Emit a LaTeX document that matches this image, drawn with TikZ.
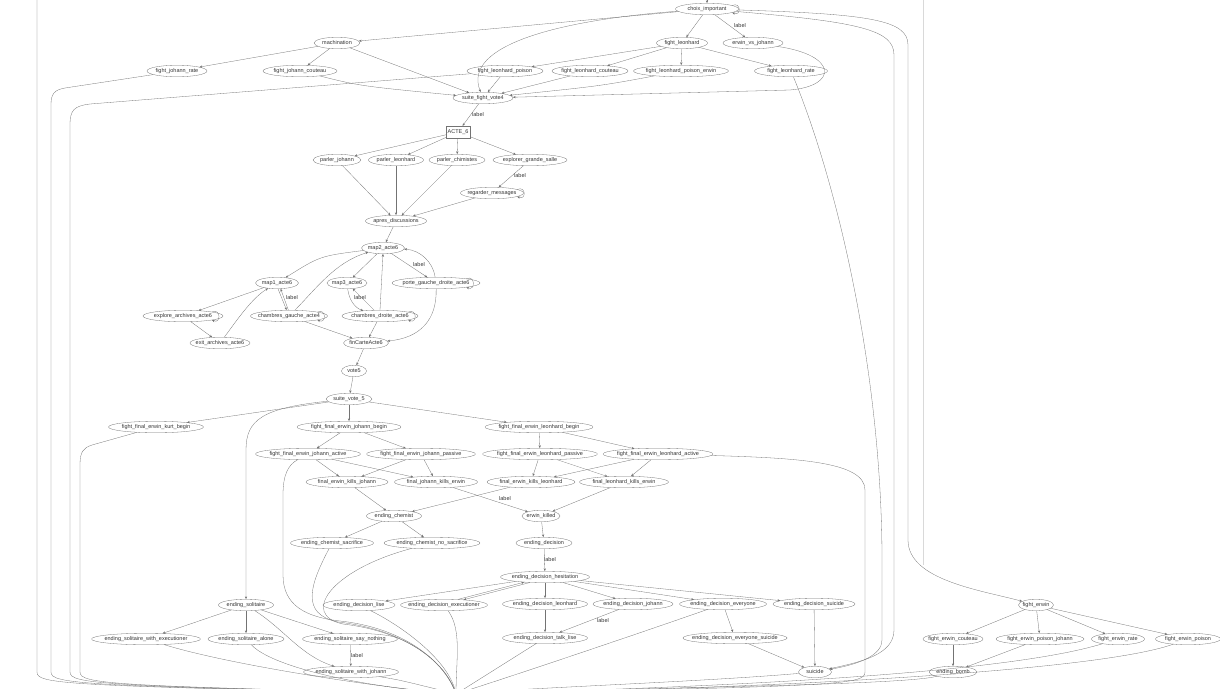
\documentclass[tikz,border=0pt]{standalone}
\usepackage{fontspec}
\setmainfont{Liberation Sans}
\usetikzlibrary{shapes.geometric,arrows.meta}

\newcommand\etat[4]{\node [scene, minimum width=#3pt] (#1) at (#2) {#4};}

\begin{document}
\begin{tikzpicture}[x=1pt,y=-1pt,
  scene/.style={ellipse,draw=black!55,line width=0.3pt,inner xsep=-6pt,inner ysep=0pt,minimum height=11.5pt,text height=3.9pt,text depth=1.1pt,font=\fontsize{5.5}{6.5}\selectfont,text=black!80},
  acte/.style={rectangle,draw=black!55,line width=0.3pt,minimum width=24pt,minimum height=12pt,inner sep=1pt,font=\fontsize{5.5}{6.5}\selectfont,text=black!80},
  lien/.style={draw=black!55,line width=0.3pt,-{Stealth[length=2.8pt,width=2.3pt]}},
  fin/.style={draw=black!55,line width=0.3pt},
  lbl/.style={font=\fontsize{5.5}{6.5}\selectfont,text=black!80,inner sep=0.5pt}]
\useasboundingbox (0,0) rectangle (1220,688);
\clip (0,0) rectangle (1220,688);

\coordinate (haut) at (707,-10);
\coordinate (hautG) at (37,-10);
\coordinate (sortie) at (456,694);

\etat{choix}{707,9}{63}{choix\_important}
\etat{machination}{337,43}{46}{machination}
\etat{fight_leonhard}{682,43}{51}{fight\_leonhard}
\etat{erwin_vs_johann}{753,43}{60}{erwin\_vs\_johann}
\etat{fight_johann_rate}{177,71}{60}{fight\_johann\_rate}
\etat{fight_johann_couteau}{300,71}{74}{fight\_johann\_couteau}
\etat{fight_leonhard_poison}{505,71}{76}{fight\_leonhard\_poison}
\etat{fight_leonhard_couteau}{590,71}{76}{fight\_leonhard\_couteau}
\etat{fight_leonhard_poison_erwin}{681,71}{95}{fight\_leonhard\_poison\_erwin}
\etat{fight_leonhard_rate}{791,71}{73}{fight\_leonhard\_rate}
\etat{suite_fight_vote4}{483,98}{60}{suite\_fight\_vote4}
\node [acte] (acte6) at (458,132) {ACTE\_6};
\etat{parler_johann}{337,160}{48}{parler\_johann}
\etat{parler_leonhard}{396,160}{55}{parler\_leonhard}
\etat{parler_chimistes}{457,160}{56}{parler\_chimistes}
\etat{explorer_grande_salle}{530,160}{74}{explorer\_grande\_salle}
\etat{regarder_messages}{492,193}{63}{regarder\_messages}
\etat{apres_discussions}{396,221}{61}{apres\_discussions}
\etat{map2}{383,248}{43}{map2\_acte6}
\etat{map1}{277,283}{43}{map1\_acte6}
\etat{map3}{347,283}{40}{map3\_acte6}
\etat{porte}{436,283}{88}{porte\_gauche\_droite\_acte6}
\etat{explore_archives}{183,316}{80}{explore\_archives\_acte6}
\etat{chambres_gauche}{289,316}{77}{chambres\_gauche\_acte4}
\etat{chambres_droite}{380,316}{76}{chambres\_droite\_acte6}
\etat{exit_archives}{220,343}{60}{exit\_archives\_acte6}
\etat{fin_carte}{366,343}{45}{finCarteActe6}
\etat{vote5}{354,371}{25}{vote5}
\etat{suite_vote_5}{349,399}{46}{suite\_vote\_5}
\etat{kurt_begin}{156,427}{95}{fight\_final\_erwin\_kurt\_begin}
\etat{johann_begin}{349,427}{104}{fight\_final\_erwin\_johann\_begin}
\etat{leonhard_begin}{539,427}{108}{fight\_final\_erwin\_leonhard\_begin}
\etat{johann_active}{308,454}{105}{fight\_final\_erwin\_johann\_active}
\etat{johann_passive}{421,454}{109}{fight\_final\_erwin\_johann\_passive}
\etat{leonhard_passive}{540,454}{115}{fight\_final\_erwin\_leonhard\_passive}
\etat{leonhard_active}{658,454}{110}{fight\_final\_erwin\_leonhard\_active}
\etat{erwin_kills_johann}{347,482}{82}{final\_erwin\_kills\_johann}
\etat{johann_kills_erwin}{436,482}{83}{final\_johann\_kills\_erwin}
\etat{erwin_kills_leonhard}{531,482}{88}{final\_erwin\_kills\_leonhard}
\etat{leonhard_kills_erwin}{624,482}{89}{final\_leonhard\_kills\_erwin}
\etat{ending_chemist}{394,516}{55}{ending\_chemist}
\etat{erwin_killed}{541,516}{38}{erwin\_killed}
\etat{chemist_sacrifice}{332,543}{83}{ending\_chemist\_sacrifice}
\etat{chemist_no_sacrifice}{432,543}{96}{ending\_chemist\_no\_sacrifice}
\etat{ending_decision}{544,543}{56}{ending\_decision}
\etat{hesitation}{545,577}{89}{ending\_decision\_hesitation}
\etat{ending_solitaire}{246,605}{55}{ending\_solitaire}
\etat{decision_lise}{359,605}{72}{ending\_decision\_lise}
\etat{decision_executioner}{444,605}{87}{ending\_decision\_executioner}
\etat{decision_leonhard}{545,604}{85}{ending\_decision\_leonhard}
\etat{decision_johann}{633,604}{80}{ending\_decision\_johann}
\etat{decision_everyone}{723,604}{87}{ending\_decision\_everyone}
\etat{decision_suicide}{814,604}{82}{ending\_decision\_suicide}
\etat{fight_erwin}{1036,605}{35}{fight\_erwin}
\etat{solitaire_executioner}{146,639}{109}{ending\_solitaire\_with\_executioner}
\etat{solitaire_alone}{246,639}{76}{ending\_solitaire\_alone}
\etat{solitaire_say_nothing}{350,639}{95}{ending\_solitaire\_say\_nothing}
\etat{decision_talk_lise}{545,638}{85}{ending\_decision\_talk\_lise}
\etat{everyone_suicide}{735,638}{102}{ending\_decision\_everyone\_suicide}
\etat{fight_erwin_couteau}{953,639}{60}{fight\_erwin\_couteau}
\etat{fight_erwin_poison_johann}{1040,639}{88}{fight\_erwin\_poison\_johann}
\etat{fight_erwin_rate}{1118,639}{53}{fight\_erwin\_rate}
\etat{fight_erwin_poison}{1188,639}{65}{fight\_erwin\_poison}
\etat{solitaire_johann}{351,672}{95}{ending\_solitaire\_with\_johann}
\etat{suicide}{815,672}{33}{suicide}
\etat{ending_bomb}{953,672}{48}{ending\_bomb}

\node [lbl] (lab_choix) at (740,26) {label};
\node [lbl] (lab_vote4) at (478,115) {label};
\node [lbl] (lab_salle) at (520,176) {label};
\node [lbl] (lab_porte) at (419,265) {label};
\node [lbl] (lab_gauche) at (292,298) {label};
\node [lbl] (lab_droite) at (360,298) {label};
\node [lbl] (lab_killed) at (505,499) {label};
\node [lbl] (lab_decision) at (550,560) {label};
\node [lbl] (lab_johann) at (603,621) {label};
\node [lbl] (lab_nothing) at (357,656) {label};

\draw [black!15,line width=0.8pt] (923,0) -- (923,565);

\draw [lien] (haut) -- (choix);
\draw [lien] (choix.8) .. controls +(9,-4) and +(9,4) .. (choix.-8);
\draw [lien] (choix) -- (machination);
\draw [lien] (choix) .. controls (560,20) and (462,45) .. (suite_fight_vote4);
\draw [lien] (choix) -- (fight_leonhard);
\draw [lien] (choix) -- (erwin_vs_johann);
\draw [lien] (choix) .. controls (870,14) and (908,20) .. (908,45) -- (908,540) .. controls (908,580) and (980,590) .. (fight_erwin);
\draw [lien] (choix) .. controls (860,22) and (894,30) .. (894,55) -- (894,630) .. controls (894,655) and (860,662) .. (suicide);

\draw [lien] (machination) -- (fight_johann_rate);
\draw [lien] (machination) -- (fight_johann_couteau);
\draw [lien] (machination) -- (suite_fight_vote4);
\draw [lien] (fight_leonhard) -- (fight_leonhard_poison);
\draw [lien] (fight_leonhard) -- (fight_leonhard_couteau);
\draw [lien] (fight_leonhard) -- (fight_leonhard_poison_erwin);
\draw [lien] (fight_leonhard) -- (fight_leonhard_rate);
\draw [lien] (erwin_vs_johann) .. controls (838,55) and (838,86) .. (790,90) -- (suite_fight_vote4);
\draw [lien] (fight_johann_couteau) .. controls (360,86) .. (suite_fight_vote4);
\draw [lien] (fight_leonhard_poison) -- (suite_fight_vote4);
\draw [lien] (fight_leonhard_couteau) -- (suite_fight_vote4);
\draw [lien] (fight_leonhard_poison_erwin) .. controls (600,86) .. (suite_fight_vote4);
\draw [lien] (fight_leonhard_rate) .. controls (840,190) and (882,380) .. (882,560) -- (882,640) .. controls (882,655) and (860,664) .. (suicide);
\draw [fin] (hautG) -- (37,672) .. controls (37,684) and (60,686) .. (sortie);
\draw [fin] (fight_johann_rate) -- (65,88) .. controls (54,90) and (51,94) .. (51,105) -- (51,672) .. controls (51,684) and (80,686) .. (sortie);
\draw [fin] (fight_leonhard_poison) -- (90,104) .. controls (74,106) and (70,110) .. (70,125) -- (70,672) .. controls (70,684) and (100,686) .. (sortie);

\draw [lien] (suite_fight_vote4) -- (acte6);
\draw [lien] (acte6) -- (parler_johann);
\draw [lien] (acte6) -- (parler_leonhard);
\draw [lien] (acte6) -- (parler_chimistes);
\draw [lien] (acte6) -- (explorer_grande_salle);
\draw [lien] (parler_johann) -- (apres_discussions);
\draw [lien] (parler_leonhard) -- (apres_discussions);
\draw [lien] (parler_chimistes) -- (apres_discussions);
\draw [lien] (explorer_grande_salle) -- (regarder_messages);
\draw [lien] (regarder_messages.8) .. controls +(9,-4) and +(9,4) .. (regarder_messages.-8);
\draw [lien] (regarder_messages) -- (apres_discussions);
\draw [lien] (apres_discussions) -- (map2);

\draw [lien] (map2) .. controls (320,256) .. (map1);
\draw [lien] (map2) -- (map3);
\draw [lien] (map2) -- (porte);
\draw [lien] (porte) .. controls (433,262) and (420,250) .. (map2);
\draw [lien] (porte.8) .. controls +(9,-4) and +(9,4) .. (porte.-8);
\draw [lien] (porte) .. controls (437,320) and (420,338) .. (fin_carte);
\draw [lien] (map1) -- (explore_archives);
\draw [lien] (map1.-80) -- (chambres_gauche.112);
\draw [lien] (chambres_gauche.96) -- (map1.-58);
\draw [lien] (chambres_gauche) .. controls (315,290) and (335,262) .. (map2);
\draw [lien] (chambres_gauche.8) .. controls +(9,-4) and +(9,4) .. (chambres_gauche.-8);
\draw [lien] (chambres_gauche) -- (fin_carte);
\draw [lien] (explore_archives.8) .. controls +(9,-4) and +(9,4) .. (explore_archives.-8);
\draw [lien] (explore_archives) -- (exit_archives);
\draw [lien] (exit_archives) .. controls (237,320) and (252,298) .. (map1);
\draw [lien] (map3) .. controls (349,300) and (355,308) .. (chambres_droite);
\draw [lien] (chambres_droite) -- (map3);
\draw [lien] (chambres_droite.north) -- (map2.south);
\draw [lien] (chambres_droite.8) .. controls +(9,-4) and +(9,4) .. (chambres_droite.-8);
\draw [lien] (chambres_droite) -- (fin_carte);
\draw [lien] (fin_carte) -- (vote5);
\draw [lien] (vote5) -- (suite_vote_5);

\draw [lien] (suite_vote_5) -- (kurt_begin);
\draw [lien] (suite_vote_5) -- (johann_begin);
\draw [lien] (suite_vote_5) -- (leonhard_begin);
\draw [lien] (suite_vote_5) .. controls (262,408) and (246,420) .. (246,450) -- (ending_solitaire);
\draw [fin] (kurt_begin) -- (92,445) .. controls (83,448) and (80,452) .. (80,465) -- (80,672) .. controls (80,684) and (110,686) .. (sortie);
\draw [lien] (johann_begin) -- (johann_active);
\draw [lien] (johann_begin) -- (johann_passive);
\draw [lien] (leonhard_begin) -- (leonhard_passive);
\draw [lien] (leonhard_begin) -- (leonhard_active);
\draw [lien] (johann_active) -- (erwin_kills_johann);
\draw [lien] (johann_active) -- (johann_kills_erwin);
\draw [lien] (johann_passive) -- (erwin_kills_johann);
\draw [lien] (johann_passive) -- (johann_kills_erwin);
\draw [lien] (leonhard_passive) -- (erwin_kills_leonhard);
\draw [lien] (leonhard_passive) -- (leonhard_kills_erwin);
\draw [lien] (leonhard_active) -- (erwin_kills_leonhard);
\draw [lien] (leonhard_active) -- (leonhard_kills_erwin);
\draw [fin] (johann_active) .. controls (288,465) and (283,475) .. (283,495) -- (283,575) .. controls (283,605) and (305,617) .. (340,621) .. controls (405,628) and (445,662) .. (sortie);
\draw [fin] (leonhard_active) .. controls (800,458) and (865,462) .. (865,490) -- (865,672) .. controls (865,685) and (840,686) .. (sortie);
\draw [lien] (erwin_kills_johann) -- (ending_chemist);
\draw [lien] (erwin_kills_leonhard) -- (ending_chemist);
\draw [lien] (johann_kills_erwin) -- (erwin_killed);
\draw [lien] (leonhard_kills_erwin) -- (erwin_killed);
\draw [lien] (ending_chemist) -- (chemist_sacrifice);
\draw [lien] (ending_chemist) -- (chemist_no_sacrifice);
\draw [lien] (erwin_killed) -- (ending_decision);
\draw [lien] (ending_decision) -- (hesitation);
\draw [fin] (chemist_sacrifice) .. controls (310,585) and (300,614) .. (338,622) .. controls (407,630) and (446,663) .. (sortie);
\draw [fin] (chemist_no_sacrifice) .. controls (330,570) and (300,615) .. (343,624) .. controls (410,632) and (447,664) .. (sortie);

\draw [lien] (hesitation) -- (decision_lise);
\draw [lien] (hesitation.200) -- (decision_executioner.15);
\draw [lien] (decision_executioner.22) -- (hesitation.194);
\draw [lien] (hesitation) -- (decision_leonhard);
\draw [lien] (hesitation) -- (decision_johann);
\draw [lien] (hesitation) -- (decision_everyone);
\draw [lien] (hesitation) -- (decision_suicide);
\draw [lien] (decision_leonhard) -- (decision_talk_lise);
\draw [lien] (decision_johann) -- (decision_talk_lise);
\draw [lien] (decision_everyone) -- (everyone_suicide);
\draw [lien] (everyone_suicide) -- (suicide);
\draw [lien] (decision_suicide) -- (suicide);
\draw [fin] (decision_lise) .. controls (400,625) and (450,660) .. (sortie);
\draw [fin] (decision_executioner) .. controls (462,630) and (456,660) .. (sortie);
\draw [fin] (decision_talk_lise) -- (sortie);
\draw [fin] (decision_everyone) .. controls (620,640) and (500,680) .. (sortie);
\draw [fin] (suicide) .. controls (700,682) and (520,688) .. (sortie);

\draw [lien] (ending_solitaire) -- (solitaire_executioner);
\draw [lien] (ending_solitaire) -- (solitaire_alone);
\draw [lien] (ending_solitaire) -- (solitaire_say_nothing);
\draw [lien] (ending_solitaire) .. controls (285,630) and (300,655) .. (solitaire_johann);
\draw [lien] (solitaire_say_nothing) -- (solitaire_johann);
\draw [fin] (solitaire_executioner) .. controls (230,665) and (380,688) .. (sortie);
\draw [fin] (solitaire_alone) .. controls (270,665) and (350,686) .. (sortie);
\draw [fin] (solitaire_johann) .. controls (400,680) .. (sortie);

\draw [lien] (fight_erwin) -- (fight_erwin_couteau);
\draw [lien] (fight_erwin) -- (fight_erwin_poison_johann);
\draw [lien] (fight_erwin) -- (fight_erwin_rate);
\draw [lien] (fight_erwin) -- (fight_erwin_poison);
\draw [lien] (fight_erwin_couteau) -- (ending_bomb);
\draw [lien] (fight_erwin_poison_johann) -- (ending_bomb);
\draw [fin] (ending_bomb) .. controls (900,686) and (600,688) .. (sortie);
\draw [fin] (fight_erwin_rate) .. controls (1000,675) and (700,688) .. (sortie);
\draw [fin] (fight_erwin_poison) .. controls (1100,670) and (800,688) .. (sortie);

\end{tikzpicture}
\end{document}
